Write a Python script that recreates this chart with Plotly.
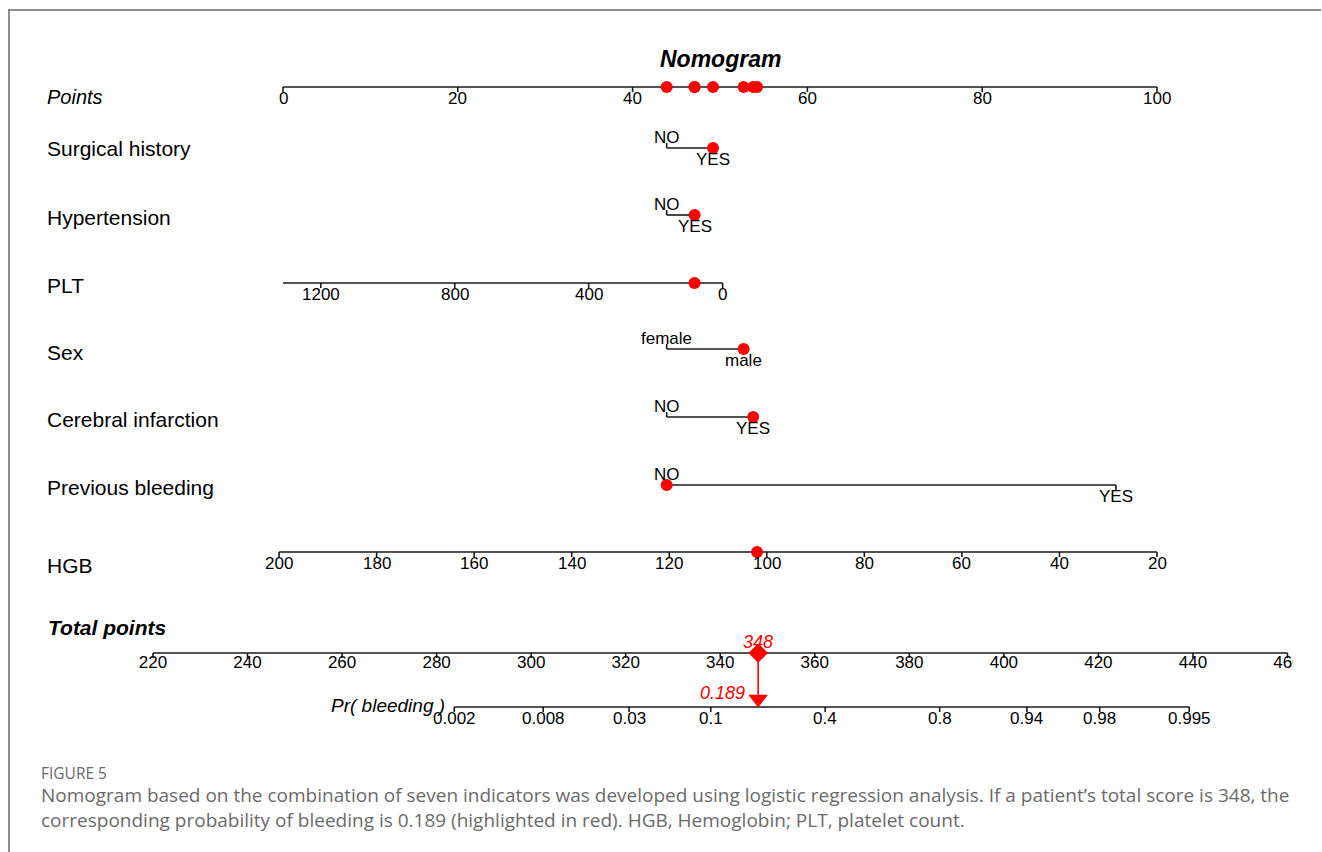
import math
import plotly.graph_objects as go

# ---------------- nomogram data ----------------
points_ticks = [0, 20, 40, 60, 80, 100]

# binary predictors: level labels and their points
surgical_levels = ["NO", "YES"]
surgical_points = [43.9, 49.2]
hypertension_levels = ["NO", "YES"]
hypertension_points = [43.9, 47.1]
sex_levels = ["female", "male"]
sex_points = [43.9, 52.7]
cerebral_levels = ["NO", "YES"]
cerebral_points = [43.9, 53.8]
prev_bleeding_levels = ["NO", "YES"]
prev_bleeding_points = [43.9, 95.3]

# continuous predictors: values at the two axis ends and their points
plt_ticks = [1200, 800, 400, 0]
plt_ends = [1313, 0]
plt_end_points = [0.0, 50.3]
hgb_ticks = [200, 180, 160, 140, 120, 100, 80, 60, 40, 20]
hgb_ends = [200, 20]
hgb_end_points = [-0.45, 100.0]

# total points and probability scales
total_ticks = [220, 240, 260, 280, 300, 320, 340, 360, 380, 400, 420, 440, 460]
prob_ticks = [0.002, 0.008, 0.03, 0.1, 0.4, 0.8, 0.94, 0.98, 0.995]
logit_intercept = -27.2085
logit_slope = 0.0740

# example patient
patient_surgical = "YES"
patient_hypertension = "YES"
patient_plt = 84
patient_sex = "male"
patient_cerebral = "YES"
patient_prev_bleeding = "NO"
patient_hgb = 102

# ---------------- geometry (layout) ----------------
W, H = 1322, 852
PX0, PX_PER_PT = 283.0, 8.74          # points scale: 0 at x=283 px, 8.74 px per point
CLIP_PX = 1293.0                       # right edge of the drawing region
TOT_X0, TOT_PX_PER_UNIT = 153.0, 4.727  # total-points scale: 220 at x=153 px


def px_to_x(px):
    return (px - PX0) / PX_PER_PT


def total_to_x(t):
    return px_to_x(TOT_X0 + (t - total_ticks[0]) * TOT_PX_PER_UNIT)


def lin(v, ends, pts):
    return pts[0] + (v - ends[0]) * (pts[1] - pts[0]) / (ends[1] - ends[0])


def prob_to_total(p):
    return (math.log(p / (1 - p)) - logit_intercept) / logit_slope


ROW = {
    "points": 87, "surgical": 148, "hypertension": 215, "plt": 283, "sex": 349,
    "cerebral": 417, "prev": 485, "hgb": 552, "total": 653, "prob": 707,
}

LABEL_FONT = dict(family="Liberation Sans, Arial", size=21, color="black")
TICK_FONT = dict(family="Liberation Sans, Arial", size=17, color="black")
RED = "#ff0000"

lx, ly = [], []
annotations = []


def seg(x0, y0, x1, y1):
    lx.extend([x0, x1, None])
    ly.extend([y0, y1, None])


def text(x, y, s, font=TICK_FONT, xanchor="center", xref="x", align="center"):
    annotations.append(dict(x=x, y=y, xref=xref, yref="y", text=s, showarrow=False,
                            xanchor=xanchor, yanchor="middle", font=font, align=align))


def scale_axis(y, tick_xs, tick_labels, x_start, x_end):
    seg(x_start, y, x_end, y)
    for tx, lab in zip(tick_xs, tick_labels):
        seg(tx, y, tx, y + 5)
        text(tx, y + 11, lab)


# Points axis
scale_axis(ROW["points"], points_ticks, [str(t) for t in points_ticks], 0, 100)

# binary predictors
binary_rows = [
    ("surgical", surgical_levels, surgical_points),
    ("hypertension", hypertension_levels, hypertension_points),
    ("sex", sex_levels, sex_points),
    ("cerebral", cerebral_levels, cerebral_points),
    ("prev", prev_bleeding_levels, prev_bleeding_points),
]
for key, levels, pts in binary_rows:
    y = ROW[key]
    seg(pts[0], y, pts[1], y)
    seg(pts[0], y, pts[0], y - 5)
    seg(pts[1], y, pts[1], y + 5)
    text(pts[0], y - 11, levels[0])
    text(pts[1], y + 11, levels[1])

# PLT axis
plt_x = [lin(v, plt_ends, plt_end_points) for v in plt_ticks]
scale_axis(ROW["plt"], plt_x, [str(v) for v in plt_ticks],
           plt_end_points[0], plt_end_points[1])

# HGB axis
hgb_x = [lin(v, hgb_ends, hgb_end_points) for v in hgb_ticks]
scale_axis(ROW["hgb"], hgb_x, [str(v) for v in hgb_ticks],
           hgb_end_points[0], hgb_end_points[1])

# Total points axis (labels as clipped text trace)
ty = ROW["total"]
tot_x = [total_to_x(t) for t in total_ticks]
seg(tot_x[0], ty, tot_x[-1], ty)
for tx in tot_x:
    seg(tx, ty, tx, ty + 5)

# Probability axis
py = ROW["prob"]
prob_x = [total_to_x(prob_to_total(p)) for p in prob_ticks]
scale_axis(py, prob_x, [str(p) for p in prob_ticks], prob_x[0], prob_x[-1])

# ---------------- patient scoring ----------------
patient_pts = [
    surgical_points[surgical_levels.index(patient_surgical)],
    hypertension_points[hypertension_levels.index(patient_hypertension)],
    lin(patient_plt, plt_ends, plt_end_points),
    sex_points[sex_levels.index(patient_sex)],
    cerebral_points[cerebral_levels.index(patient_cerebral)],
    prev_bleeding_points[prev_bleeding_levels.index(patient_prev_bleeding)],
    lin(patient_hgb, hgb_ends, hgb_end_points),
]
patient_rows = ["surgical", "hypertension", "plt", "sex", "cerebral", "prev", "hgb"]
total_score = sum(patient_pts)
prob = 1 / (1 + math.exp(-(logit_intercept + logit_slope * total_score)))

fig = go.Figure()
fig.add_trace(go.Scatter(x=lx, y=ly, mode="lines", line=dict(color="#1a1a1a", width=1.6),
                         hoverinfo="skip", showlegend=False))

# total-points tick labels, clipped at the right edge of the drawing area
fig.add_trace(go.Scatter(x=tot_x, y=[ty + 11] * len(tot_x), mode="text",
                         text=[str(t) for t in total_ticks], textposition="middle center",
                         textfont=TICK_FONT, cliponaxis=True, hoverinfo="skip",
                         showlegend=False))

# patient dots on each predictor row and on the Points axis
fig.add_trace(go.Scatter(x=patient_pts, y=[ROW[r] for r in patient_rows], mode="markers",
                         marker=dict(color=RED, size=12), hoverinfo="skip", showlegend=False))
fig.add_trace(go.Scatter(x=patient_pts, y=[ROW["points"]] * len(patient_pts), mode="markers",
                         marker=dict(color=RED, size=12), hoverinfo="skip", showlegend=False))

# total score marker, drop line and probability arrow
sx = total_to_x(total_score)
fig.add_trace(go.Scatter(x=[sx, sx], y=[ty, py - 8], mode="lines",
                         line=dict(color=RED, width=1.6), hoverinfo="skip", showlegend=False))
fig.add_trace(go.Scatter(x=[sx], y=[ty], mode="markers",
                         marker=dict(color=RED, size=15, symbol="diamond"),
                         hoverinfo="skip", showlegend=False))
fig.add_trace(go.Scatter(x=[sx], y=[py - 8], mode="markers",
                         marker=dict(color=RED, size=17, symbol="triangle-down"),
                         hoverinfo="skip", showlegend=False))

red_font = dict(family="Liberation Sans, Arial", size=18, color=RED)
text(sx, ty - 11, f"<i>{round(total_score)}</i>", font=red_font)
text(sx - 1.3, py - 14, f"<i>{prob:.3f}</i>", font=red_font, xanchor="right")

# row labels
lab_x = 45 / W
text(lab_x, 97, "<i>Points</i>", font=dict(family="Liberation Sans, Arial", size=20,
                                           color="black"), xanchor="left", xref="paper")
for name, y in [("Surgical history", 148), ("Hypertension", 217), ("PLT", 285),
                ("Sex", 352), ("Cerebral infarction", 419), ("Previous bleeding", 487),
                ("HGB", 565)]:
    text(lab_x, y, name, font=LABEL_FONT, xanchor="left", xref="paper")
text(46 / W, 627, "<b><i>Total points</i></b>",
     font=dict(family="Liberation Sans, Arial", size=21, color="black"),
     xanchor="left", xref="paper")
text(px_to_x(447), 705, "<i>Pr( bleeding )</i>",
     font=dict(family="Liberation Sans, Arial", size=19, color="black"), xanchor="right")

# title
text(px_to_x(720), 59, "<b><i>Nomogram</i></b>",
     font=dict(family="Liberation Sans, Arial", size=23, color="black"))

# caption
cap_font = dict(family="Open Sans", size=19, color="#6a6a6a")
text(39 / W, 773, "FIGURE 5", font=dict(family="Open Sans", size=15.5, color="#6a6a6a"),
     xanchor="left", xref="paper")
text(39 / W, 807, "Nomogram based on the combination of seven indicators was developed using "
     "logistic regression analysis. If a patient\u2019s total score is 348, the<br>"
     "corresponding probability of bleeding is 0.189 (highlighted in red). "
     "HGB, Hemoglobin; PLT, platelet count.",
     font=cap_font, xanchor="left", xref="paper", align="left")

# frame lines
shapes = [
    dict(type="line", xref="paper", yref="y", x0=8 / W, x1=1321 / W, y0=10, y1=10,
         line=dict(color="#6a6a6a", width=1.5)),
    dict(type="line", xref="paper", yref="y", x0=9 / W, x1=9 / W, y0=10, y1=H,
         line=dict(color="#6a6a6a", width=1.5)),
]

fig.update_layout(
    width=W, height=H, margin=dict(l=0, r=0, t=0, b=0),
    paper_bgcolor="white", plot_bgcolor="white",
    xaxis=dict(range=[px_to_x(0), px_to_x(CLIP_PX)], domain=[0, CLIP_PX / W],
               visible=False, fixedrange=True),
    yaxis=dict(range=[H, 0], domain=[0, 1], visible=False, fixedrange=True),
    annotations=annotations, shapes=shapes, showlegend=False,
)

fig.write_html("out.html")
